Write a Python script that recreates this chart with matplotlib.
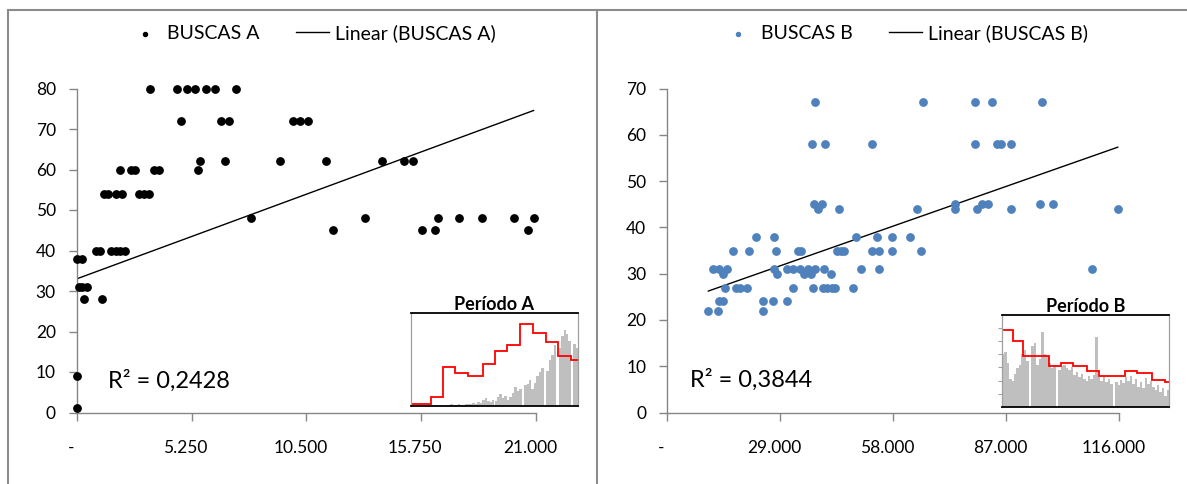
import matplotlib
matplotlib.use("Agg")
import matplotlib.pyplot as plt
import matplotlib.transforms as mtransforms
from matplotlib.lines import Line2D
import numpy as np

plt.rcParams["font.family"] = ["Lato", "DejaVu Sans"]

# ---- panel A: BUSCAS A (x, y) ----
buscas_a_x = [3350, 4600, 5060, 5400, 5930, 6310, 7270,
              4790, 6620, 6970, 9870, 10210, 10580,
              5640, 6790, 9290, 11390, 13950, 14970, 15360,
              5550, 1980, 2500, 2650, 3540, 3770,
              1250, 1430, 1780, 2090, 2850, 3080, 3310,
              7960, 13170, 16500, 17460, 18530, 20000, 20890,
              11700, 15810, 16380, 20650,
              870, 1070, 1590, 1780, 1980, 2200,
              30, 260,
              100, 260, 490,
              330, 1140,
              0, 0]
buscas_a_y = [80, 80, 80, 80, 80, 80, 80,
              72, 72, 72, 72, 72, 72,
              62, 62, 62, 62, 62, 62, 62,
              60, 60, 60, 60, 60, 60,
              54, 54, 54, 54, 54, 54, 54,
              48, 48, 48, 48, 48, 48, 48,
              45, 45, 45, 45,
              40, 40, 40, 40, 40, 40,
              38, 38,
              31, 31, 31,
              28, 28,
              9, 1]
trend_a = (0.00199, 33.0)   # slope, intercept
r2_a = "R² = 0,2428"

# ---- panel B: BUSCAS B (x, y) ----
buscas_b_x = [37900, 65700, 79000, 83300, 96100,
              37100, 40500, 52700, 79000, 84700, 85600, 88200,
              37700, 39700, 73800, 80700, 82400, 95600, 99100,
              38800, 44100, 64200, 73800, 79400, 88200, 115600,
              22800, 27500, 48500, 53800, 57600, 62300,
              17000, 21000, 27900, 33700, 34300, 43500, 44600, 45500, 52700, 54400, 57600, 65100,
              11700, 13400, 15300, 27500, 30800, 32400, 34100, 36200, 37900, 40300, 49700, 54400, 109100,
              14300, 28300, 35100, 36900, 42000,
              14900, 17700, 18700, 20400, 32400, 37500, 40100, 41100, 42200, 43100, 47800,
              13400, 14400, 24500, 27100, 30700,
              10600, 13200, 24500]
buscas_b_y = [67] * 5 + [58] * 7 + [45] * 7 + [44] * 7 + [38] * 6 + [35] * 12 + \
             [31] * 13 + [30] * 5 + [27] * 11 + [24] * 5 + [22] * 3
trend_b = (0.000296, 23.1)
r2_b = "R² = 0,3844"

# ---- inset series (share of period, %) ----
red_a_edges = [0, 1.62, 2.59, 3.59, 4.68, 5.84, 6.84, 7.84, 8.86, 9.95, 10.95, 11.97, 12.97, 13.6]
red_a = [1.8, 9.7, 42, 35.7, 32, 45, 59, 66, 88, 79, 68.6, 54, 50]
bars_a = [0, 0, 0, 0, 0, 0, 0, 0, 0,
          1, 0, 1, 1, 0, 1, 1, 2, 1, 1, 2, 1, 1, 2, 2, 2,
          3, 2, 4, 3, 6, 8, 5, 4, 6, 5, 9, 13, 8, 10, 6, 9,
          14, 20, 16, 18, 0, 22, 24, 28, 18, 25, 32, 36, 41, 0,
          38, 50, 55, 66, 0, 62, 75, 82, 78, 70, 0, 67, 62]
red_b_edges = [0, 0.89, 1.76, 3.86, 4.78, 5.81, 6.89, 7.92, 10.0, 10.95, 12.16, 13.24, 13.6]
red_b = [84, 72, 55, 44, 48, 44, 39, 33, 39, 37, 29, 27]
bars_b = [58, 60, 48, 30, 28, 36, 42, 45, 58, 62, 50, 0, 66, 70, 45, 52, 82, 58,
          55, 48, 42, 46, 0, 40, 44, 45, 42, 40, 43, 35, 38, 32, 36, 30, 28, 34,
          30, 35, 76, 32, 28, 33, 27, 30, 25, 0, 27, 24, 29, 26, 32, 28, 34, 25,
          30, 22, 27, 20, 31, 25, 28, 22, 18, 24, 16, 20, 12, 18]

W, H = 1187, 484
GRAY = "#868686"
BLUE = "#4f81bd"

fig = plt.figure(figsize=(W / 100, H / 100), dpi=100)


def fmt_thousands(v):
    if v == 0:
        return "-"
    return f"{int(v):,}".replace(",", ".")


def style_main(ax, xticks, ylim, ystep):
    ax.set_ylim(*ylim)
    ax.set_yticks(np.arange(ylim[0], ylim[1] + 1, ystep))
    ax.set_xticks(xticks)
    ax.set_xticklabels([fmt_thousands(t) for t in xticks])
    for s in ("top", "right"):
        ax.spines[s].set_visible(False)
    for s in ("left", "bottom"):
        ax.spines[s].set_color(GRAY)
        ax.spines[s].set_linewidth(1.0)
    ax.tick_params(axis="y", direction="out", length=6, width=1, color=GRAY, pad=9, labelsize=12.5)
    ax.tick_params(axis="x", direction="out", length=6, width=1, color=GRAY, pad=14, labelsize=12.5)
    shift = mtransforms.ScaledTranslation(-6 / 100, 0, fig.dpi_scale_trans)
    for lab in ax.get_xticklabels():
        lab.set_transform(lab.get_transform() + shift)


def draw_inset(rect, title, edges, red, bars, yticks):
    ins = fig.add_axes(rect, zorder=5)
    ins.set_facecolor("white")
    n = len(bars)
    step = edges[-1] / n
    xs = np.arange(n) * step + step / 2
    ins.bar(xs, bars, width=step, color="#bfbfbf", linewidth=0)
    ins.stairs(red, edges, color="red", linewidth=1.3, baseline=None)
    ins.set_xlim(edges[0], edges[-1])
    ins.set_ylim(0, 100)
    ins.set_xticks([])
    ins.set_yticks(yticks)
    ins.set_yticklabels([])
    ins.tick_params(axis="y", direction="out", length=3, width=0.8, color="#a0a0a0")
    for s in ("top", "bottom"):
        ins.spines[s].set_color("black")
        ins.spines[s].set_linewidth(1.3)
    for s in ("left", "right"):
        ins.spines[s].set_color("#a0a0a0")
        ins.spines[s].set_linewidth(0.9)
    ins.set_title(title, fontsize=13, fontweight="bold", pad=-1)
    return ins


# ---- left panel ----
ax_a = fig.add_axes([76.7 / W, (H - 412.5) / H, (536 - 76.7) / W, 324 / H])
ax_a.set_xlim(0, 21000)
ax_a.scatter(buscas_a_x, buscas_a_y, s=28, color="black", zorder=3, clip_on=False, label="BUSCAS A")
xa = np.array([min(buscas_a_x), max(buscas_a_x)])
ax_a.plot(xa, trend_a[0] * xa + trend_a[1], color="black", lw=1.0, label="Linear (BUSCAS A)")
style_main(ax_a, [0, 5250, 10500, 15750, 21000], (0, 80), 10)

# ---- right panel ----
ax_b = fig.add_axes([667 / W, (H - 412.5) / H, (1119.3 - 667) / W, 324 / H])
ax_b.set_xlim(0, 116000)
ax_b.scatter(buscas_b_x, buscas_b_y, s=28, color=BLUE, zorder=3, clip_on=False, label="BUSCAS B")
xb = np.array([min(buscas_b_x), max(buscas_b_x)])
ax_b.plot(xb, trend_b[0] * xb + trend_b[1], color="black", lw=1.0, label="Linear (BUSCAS B)")
style_main(ax_b, [0, 29000, 58000, 87000, 116000], (0, 70), 10)

# legends
for ax, cx in ((ax_a, 312), (ax_b, 905)):
    ax.legend(loc="center", bbox_to_anchor=(cx / W, 1 - 33 / H), bbox_transform=fig.transFigure,
              ncol=2, frameon=False, fontsize=14, handlelength=1.7, handletextpad=0.3,
              columnspacing=1.9, markerscale=0.55)

# R² labels
fig.text(108 / W, 1 - 381 / H, r2_a, fontsize=17, va="center", ha="left")
fig.text(690 / W, 1 - 380 / H, r2_b, fontsize=17, va="center", ha="left")

# insets
draw_inset([410.7 / W, (H - 405.7) / H, 167.6 / W, 92.4 / H], "Período A",
           red_a_edges, red_a, bars_a, [])
draw_inset([1001.7 / W, (H - 406.7) / H, 167.6 / W, 91.7 / H], "Período B",
           red_b_edges, red_b, bars_b, np.arange(1, 7) * 100 / 7)

# panel frames
frame_kw = dict(color="#8c8c8c", lw=1.5, transform=fig.transFigure)
fig.add_artist(Line2D([8 / W, 8 / W], [0, 1 - 9.5 / H], **frame_kw))
fig.add_artist(Line2D([8 / W, 1], [1 - 9.5 / H, 1 - 9.5 / H], **frame_kw))
fig.add_artist(Line2D([597 / W, 597 / W], [0, 1 - 9.5 / H], **frame_kw))

fig.savefig("out.png", dpi=100, facecolor="white")
